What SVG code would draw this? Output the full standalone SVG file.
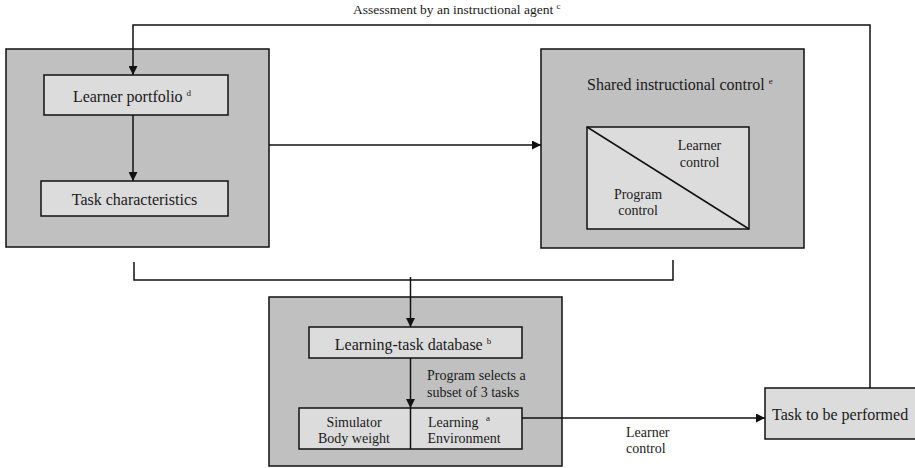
<svg xmlns="http://www.w3.org/2000/svg" width="915" height="468" viewBox="0 0 915 468" font-family="'Liberation Serif', 'Times New Roman', Tinos, 'DejaVu Serif', serif">
<style>
text{font-family:'Liberation Serif','Times New Roman',Tinos,'DejaVu Serif',serif;fill:#1a1a1a}
.big{font-size:16px}
.sm{font-size:14px}
.tiny{font-size:13.5px}
.sup{font-size:9px}
.outer{fill:#c0c0c0;stroke:#111;stroke-width:1.5}
.inner{fill:#dcdcdc;stroke:#111;stroke-width:1.5}
.ln{fill:none;stroke:#111;stroke-width:1.5}
</style>
<defs>
<marker id="ah2" viewBox="0 0 10 10" refX="10" refY="5" markerWidth="10" markerHeight="9" orient="auto" markerUnits="userSpaceOnUse">
<path d="M0,0 L10,5 L0,10 z" fill="#111"/>
</marker>
</defs>

<g id="left-group">
<rect class="outer" x="6" y="49" width="263" height="198"/>
</g>
<g id="learner-portfolio">
<rect class="inner" x="44" y="75" width="184" height="40"/>
<text class="big" x="132" y="101.5" text-anchor="middle">Learner portfolio <tspan class="sup" dy="-6">d</tspan></text>
</g>
<g id="task-characteristics">
<rect class="inner" x="41" y="181" width="187" height="35"/>
<text class="big" x="134.5" y="204.5" text-anchor="middle">Task characteristics</text>
</g>

<g id="shared-control">
<rect class="outer" x="541" y="49" width="263" height="199"/>
<text class="big" x="587" y="89.5">Shared instructional control <tspan class="sup" dy="-6">e</tspan></text>
</g>
<g id="control-split">
<rect class="inner" x="587" y="127" width="162" height="102"/>
<line class="ln" x1="587" y1="127" x2="749" y2="229" stroke-width="1.2"/>
<text class="sm" x="699.5" y="150" text-anchor="middle">Learner</text>
<text class="sm" x="699.5" y="166.5" text-anchor="middle">control</text>
<text class="sm" x="638" y="198.5" text-anchor="middle">Program</text>
<text class="sm" x="638" y="214.5" text-anchor="middle">control</text>
</g>

<g id="bottom-group">
<rect class="outer" x="269" y="297" width="293" height="169"/>
</g>
<g id="learning-task-database">
<rect class="inner" x="309" y="327" width="213" height="31"/>
<text class="big" x="413" y="349.5" text-anchor="middle">Learning-task database <tspan class="sup" dy="-6">b</tspan></text>
</g>
<g id="learning-environment">
<rect class="inner" x="299" y="408" width="223" height="41"/>
<line class="ln" x1="410.5" y1="408" x2="410.5" y2="449" stroke-width="1.2"/>
<text class="sm" x="354" y="426.5" text-anchor="middle">Simulator</text>
<text class="sm" x="354" y="442.5" text-anchor="middle">Body weight</text>
<text class="sm" x="459" y="426.5" text-anchor="middle">Learning <tspan class="sup" dx="4" dy="-6">a</tspan></text>
<text class="sm" x="464" y="442.5" text-anchor="middle">Environment</text>
</g>

<g id="task-to-be-performed">
<rect class="inner" x="765" y="388" width="152" height="51"/>
<text class="big" x="772" y="419.5">Task to be performed</text>
</g>

<g id="connectors">
<polyline class="ln" points="870,388 870,25 133,25 133,75" marker-end="url(#ah2)"/>
<line class="ln" x1="133" y1="115" x2="133" y2="181" marker-end="url(#ah2)"/>
<line class="ln" x1="269" y1="145" x2="541" y2="145" marker-end="url(#ah2)"/>
<polyline class="ln" points="134,262 134,280 673,280 673,260"/>
<line class="ln" x1="410.5" y1="277" x2="410.5" y2="327" marker-end="url(#ah2)"/>
<line class="ln" x1="410.5" y1="358" x2="410.5" y2="408" marker-end="url(#ah2)"/>
<line class="ln" x1="522" y1="418" x2="765" y2="418" marker-end="url(#ah2)"/>
<text class="tiny" x="353" y="14">Assessment by an instructional agent <tspan class="sup" dy="-5">c</tspan></text>
<text class="sm" x="626" y="437">Learner</text>
<text class="sm" x="626" y="453">control</text>
<text class="sm" x="427" y="380">Program selects a</text>
<text class="sm" x="427" y="397">subset of 3 tasks</text>
</g>
</svg>
